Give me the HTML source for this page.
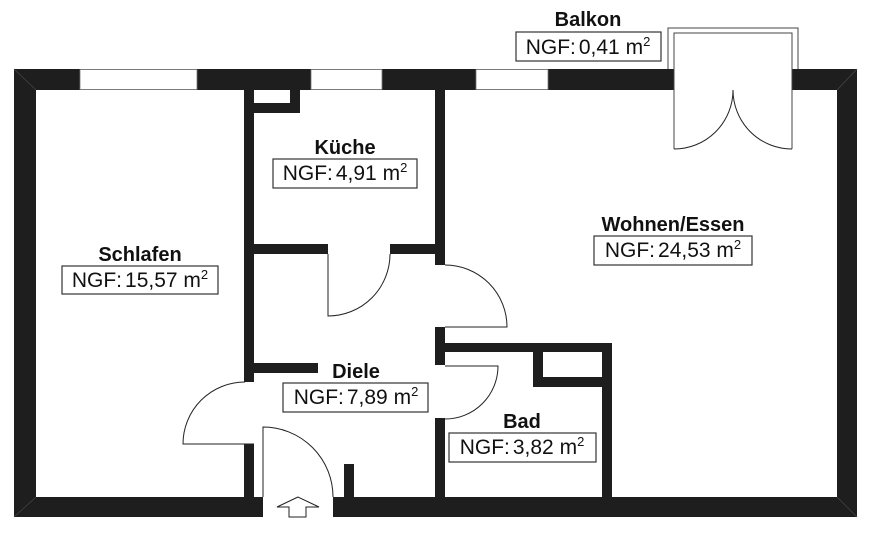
<!DOCTYPE html>
<html>
<head>
<meta charset="utf-8">
<style>
  html, body { margin: 0; padding: 0; background: #fff; }
  svg { display: block; }
  .w { fill: #1e1e1e; }
  .ln { fill: none; stroke: #222; stroke-width: 1; }
  .bx { fill: #fff; stroke: #333; stroke-width: 1.2; }
  .nm { font-family: "Liberation Sans", Arial, sans-serif; font-weight: bold; font-size: 20px; fill: #111; }
  .ng { font-family: "Liberation Sans", Arial, sans-serif; font-size: 21px; fill: #111; }
</style>
</head>
<body>
<svg width="873" height="533" viewBox="0 0 873 533" xmlns="http://www.w3.org/2000/svg">
  <rect width="873" height="533" fill="#fff"/>

  <!-- Outer walls -->
  <rect class="w" x="14" y="69" width="660" height="21"/>
  <rect class="w" x="792" y="69" width="65" height="21"/>
  <rect class="w" x="14" y="69" width="22" height="448"/>
  <rect class="w" x="837" y="69" width="20" height="448"/>
  <rect class="w" x="14" y="497" width="249" height="20"/>
  <rect class="w" x="333" y="497" width="524" height="20"/>

  <!-- Windows -->
  <rect x="80" y="69.5" width="117" height="20" fill="#fff" stroke="#777" stroke-width="0.8"/>
  <rect x="311" y="69.5" width="71" height="20" fill="#fff" stroke="#777" stroke-width="0.8"/>
  <rect x="476" y="69.5" width="72" height="20" fill="#fff" stroke="#777" stroke-width="0.8"/>

  <!-- corner hatch -->
  <g stroke="#4a4a4a" stroke-width="0.6">
    <line x1="14" y1="69" x2="36" y2="90"/>
    <line x1="837" y1="90" x2="857" y2="69"/>
    <line x1="14" y1="517" x2="36" y2="497"/>
    <line x1="837" y1="497" x2="857" y2="517"/>
  </g>

  <!-- Interior walls -->
  <rect class="w" x="244" y="90" width="10" height="292"/>
  <rect class="w" x="244" y="444" width="10" height="53"/>
  <rect class="w" x="290" y="90" width="10" height="23"/>
  <rect class="w" x="254" y="103" width="46" height="10"/>
  <rect class="w" x="435" y="90" width="10" height="175"/>
  <rect class="w" x="435" y="327" width="10" height="38"/>
  <rect class="w" x="435" y="418" width="10" height="79"/>
  <rect class="w" x="254" y="244" width="74" height="10"/>
  <rect class="w" x="390" y="244" width="45" height="10"/>
  <rect class="w" x="254" y="363" width="64" height="10"/>
  <rect class="w" x="445" y="343" width="167" height="9"/>
  <rect class="w" x="602" y="343" width="10" height="154"/>
  <rect class="w" x="533" y="352" width="10" height="35"/>
  <rect class="w" x="533" y="377" width="69" height="10"/>
  <rect class="w" x="344" y="464" width="10" height="33"/>

  <!-- Doors -->
  <path class="ln" d="M328,254 L328,316 A62,62 0 0,0 390,254"/>
  <path class="ln" d="M445,265 A62,62 0 0,1 507,327 L445,327"/>
  <path class="ln" d="M445,366 L498,366 A53,53 0 0,1 445,419"/>
  <path class="ln" d="M254,444 L183,444 A62,62 0 0,1 245,382"/>
  <path class="ln" d="M263,497 L263,427 A70,70 0 0,1 333,497"/>

  <!-- Balcony door -->
  <path d="M668,69 L668,28 L798,28 L798,69" fill="none" stroke="#444" stroke-width="1"/>
  <path d="M674,149 L674,33 L792,33 L792,149" fill="#fff" stroke="#444" stroke-width="1"/>
  <rect x="674.5" y="69" width="117" height="21" fill="#fff"/>
  <line x1="674" y1="33" x2="674" y2="149" stroke="#444" stroke-width="1"/>
  <line x1="792" y1="33" x2="792" y2="149" stroke="#444" stroke-width="1"/>
  <path class="ln" d="M674,149 A59,59 0 0,0 733,90"/>
  <path class="ln" d="M792,149 A59,59 0 0,1 733,90"/>

  <!-- Entry arrow -->
  <polygon points="298,497 277,507 289,507 289,517 306,517 306,507 319,507" fill="#fff" stroke="#222" stroke-width="1"/>

  <!-- Labels -->
  <text class="nm" x="588" y="26" text-anchor="middle">Balkon</text>
  <rect class="bx" x="516" y="32" width="145" height="29"/>
  <text class="ng" x="588" y="54" text-anchor="middle">NGF:<tspan dx="3">0,41 m</tspan><tspan font-size="13" dy="-8">2</tspan></text>

  <text class="nm" x="345" y="154" text-anchor="middle">Küche</text>
  <rect class="bx" x="273" y="159" width="144" height="29"/>
  <text class="ng" x="345" y="180" text-anchor="middle">NGF:<tspan dx="3">4,91 m</tspan><tspan font-size="13" dy="-8">2</tspan></text>

  <text class="nm" x="140" y="261" text-anchor="middle">Schlafen</text>
  <rect class="bx" x="62" y="266" width="156" height="28"/>
  <text class="ng" x="140" y="287" text-anchor="middle">NGF:<tspan dx="3">15,57 m</tspan><tspan font-size="13" dy="-8">2</tspan></text>

  <text class="nm" x="673" y="231" text-anchor="middle">Wohnen/Essen</text>
  <rect class="bx" x="594" y="236" width="158" height="29"/>
  <text class="ng" x="673" y="257" text-anchor="middle">NGF:<tspan dx="3">24,53 m</tspan><tspan font-size="13" dy="-8">2</tspan></text>

  <text class="nm" x="356" y="378" text-anchor="middle">Diele</text>
  <rect class="bx" x="283" y="383" width="145" height="29"/>
  <text class="ng" x="356" y="404" text-anchor="middle">NGF:<tspan dx="3">7,89 m</tspan><tspan font-size="13" dy="-8">2</tspan></text>

  <text class="nm" x="522" y="428" text-anchor="middle">Bad</text>
  <rect class="bx" x="449" y="433" width="147" height="29"/>
  <text class="ng" x="522" y="454" text-anchor="middle">NGF:<tspan dx="3">3,82 m</tspan><tspan font-size="13" dy="-8">2</tspan></text>
</svg>
</body>
</html>
